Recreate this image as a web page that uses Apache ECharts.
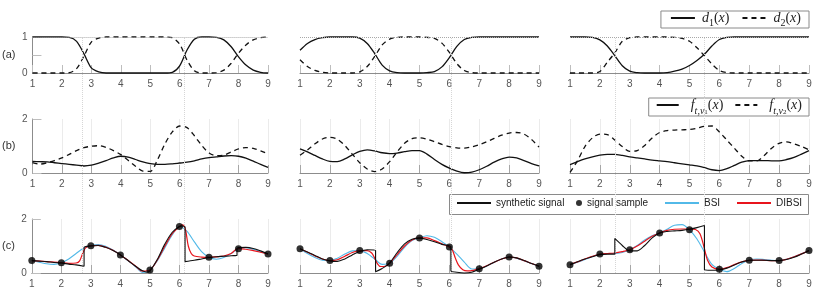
<!DOCTYPE html>
<html><head><meta charset="utf-8">
<script src="https://cdn.jsdelivr.net/npm/echarts@6/dist/echarts.min.js"></script>
<style>html,body{margin:0;padding:0;background:#fff}#c{width:822px;height:290px}</style>
</head><body><div id="c"></div>
<script>
// ---------- data ----------
const xGrid = [1,1.25,1.5,1.75,2,2.25,2.5,2.75,3,3.25,3.5,3.75,4,4.25,4.5,4.75,5,5.25,5.5,5.75,6,6.25,6.5,6.75,7,7.25,7.5,7.75,8,8.25,8.5,8.75,9];
const sampleX = [1,2,3,4,5,6,7,8,9];

// row (a): weights
const c1D1 = [1,1,1,1,1,0.99,0.88,0.53,0.14,0.03,0,0,0,0,0,0,0,0,0,0.02,0.2,0.64,0.94,1,1,0.99,0.92,0.73,0.45,0.22,0.08,0.02,0];
const c1D2 = [0,0,0,0,0,0.01,0.12,0.47,0.86,0.97,1,1,1,1,1,1,1,1,1,0.98,0.8,0.36,0.06,0,0,0.01,0.08,0.27,0.55,0.78,0.92,0.98,1];
const c2D1 = [0.63,0.82,0.93,0.98,1,1,1,1,0.97,0.82,0.54,0.22,0.06,0.01,0,0,0,0.01,0.04,0.17,0.43,0.74,0.93,0.99,1,1,1,1,1,1,1,1,1];
const c2D2 = [0.37,0.18,0.07,0.02,0,0,0,0,0.03,0.18,0.46,0.78,0.94,0.99,1,1,1,0.99,0.96,0.83,0.57,0.26,0.07,0.01,0,0,0,0,0,0,0,0,0];
const c3D1 = [1,1,1,0.99,0.92,0.75,0.48,0.2,0.05,0.01,0,0,0,0.01,0.05,0.11,0.21,0.35,0.52,0.75,0.93,0.99,1,1,1,1,1,1,1,1,1,1,1];
const c3D2 = [0,0,0,0,0.04,0.3,0.56,0.88,0.98,1,1,1,1,1,0.99,0.96,0.88,0.7,0.48,0.25,0.07,0.01,0,0,0,0,0,0,0,0,0,0,0];

// row (b): local functions
const c1F1 = [0.43,0.42,0.41,0.38,0.35,0.32,0.29,0.26,0.29,0.37,0.46,0.56,0.62,0.59,0.50,0.41,0.35,0.32,0.32,0.34,0.37,0.40,0.45,0.52,0.57,0.60,0.63,0.64,0.62,0.55,0.44,0.32,0.21];
const c1F2 = [0.38,0.33,0.38,0.46,0.56,0.69,0.83,0.94,0.99,1.01,0.95,0.83,0.68,0.47,0.25,0.07,0.06,0.50,1.08,1.52,1.74,1.68,1.38,1.02,0.74,0.64,0.66,0.78,0.89,0.94,0.91,0.82,0.71];
const c2F1 = [0.89,0.78,0.65,0.52,0.43,0.42,0.52,0.67,0.80,0.86,0.82,0.75,0.72,0.74,0.79,0.83,0.83,0.70,0.50,0.32,0.18,0.07,0.01,0.03,0.12,0.25,0.40,0.52,0.59,0.56,0.46,0.35,0.26];
const c2F2 = [0.66,0.85,1.08,1.26,1.32,1.25,1.02,0.70,0.38,0.15,0.05,0.15,0.42,0.78,1.10,1.27,1.30,1.25,1.16,1.06,0.98,0.93,0.92,0.97,1.05,1.16,1.28,1.40,1.48,1.50,1.44,1.24,0.96];
const c3F1 = [0.31,0.42,0.52,0.60,0.66,0.69,0.69,0.65,0.60,0.56,0.52,0.48,0.45,0.42,0.38,0.34,0.30,0.26,0.20,0.12,0.09,0.16,0.28,0.40,0.46,0.46,0.46,0.45,0.45,0.50,0.58,0.70,0.83];
const c3F2 = [0.02,0.45,0.98,1.30,1.44,1.42,1.22,0.98,0.80,0.83,1.02,1.30,1.50,1.57,1.59,1.60,1.61,1.66,1.73,1.74,1.52,1.22,0.92,0.62,0.45,0.45,0.65,0.92,1.10,1.15,1.08,0.98,0.86];

// row (c): signal samples
const c1Sample = [0.46,0.38,1.01,0.67,0.11,1.72,0.58,0.90,0.70];
const c2Sample = [0.90,0.46,0.83,0.36,1.30,0.96,0.16,0.59,0.25];
const c3Sample = [0.31,0.70,0.86,1.48,1.60,0.14,0.47,0.46,0.83];

// row (c): synthetic signal (repeated points mark the jumps)
const c1Signal = [[1,0.46],[1.25,0.44],[1.5,0.42],[1.75,0.39],[2,0.37],[2.25,0.33],[2.5,0.30],[2.77,0.25],[2.77,0.25],[2.77,0.94],[2.77,0.94],[3,1.0],[3.25,1.02],[3.5,0.95],[3.75,0.83],[4,0.67],[4.25,0.47],[4.5,0.26],[4.75,0.08],[4.9,0.03],[5,0.08],[5.25,0.5],[5.5,1.06],[5.75,1.50],[6,1.72],[6.1,1.74],[6.19,1.70],[6.19,1.70],[6.19,0.42],[6.19,0.42],[6.5,0.47],[6.75,0.52],[7,0.57],[7.25,0.60],[7.5,0.62],[7.75,0.64],[7.95,0.65],[7.95,0.65],[7.95,0.92],[7.95,0.92],[8.25,0.95],[8.5,0.91],[8.75,0.82],[9,0.71]];
const c2Signal = [[1,0.90],[1.25,0.78],[1.5,0.65],[1.75,0.52],[2,0.45],[2.25,0.43],[2.5,0.52],[2.75,0.67],[3,0.80],[3.25,0.86],[3.53,0.83],[3.53,0.83],[3.53,0.05],[3.53,0.05],[3.75,0.17],[4,0.37],[4.25,0.75],[4.5,1.08],[4.75,1.25],[5,1.29],[5.25,1.24],[5.5,1.16],[5.75,1.06],[6.05,0.96],[6.05,0.96],[6.05,0.08],[6.05,0.08],[6.25,0.03],[6.5,0.0],[6.75,0.03],[7,0.14],[7.25,0.26],[7.5,0.40],[7.75,0.52],[8,0.59],[8.25,0.56],[8.5,0.46],[8.75,0.35],[9,0.25]];
const c3Signal = [[1,0.31],[1.25,0.42],[1.5,0.52],[1.75,0.60],[2,0.68],[2.25,0.70],[2.5,0.70],[2.5,0.70],[2.5,1.28],[2.5,1.28],[2.75,1.02],[3,0.82],[3.25,0.82],[3.5,1.02],[3.75,1.30],[4,1.48],[4.25,1.54],[4.5,1.56],[4.75,1.58],[5,1.62],[5.25,1.68],[5.5,1.76],[5.5,1.76],[5.5,0.12],[5.5,0.12],[5.75,0.10],[6,0.12],[6.25,0.18],[6.5,0.30],[6.75,0.41],[7,0.47],[7.25,0.47],[7.5,0.47],[7.75,0.46],[8,0.46],[8.25,0.50],[8.5,0.58],[8.75,0.70],[9,0.83]];

// row (c): BSI reconstruction (on xGrid)
const c1Bsi = [0.46,0.40,0.34,0.32,0.38,0.52,0.72,0.92,1.01,1.05,0.99,0.85,0.67,0.46,0.25,0.02,0.11,0.45,0.92,1.40,1.72,1.55,1.16,0.79,0.58,0.51,0.57,0.72,0.90,0.94,0.88,0.79,0.70];
const c2Bsi = [0.90,0.72,0.57,0.47,0.46,0.55,0.70,0.82,0.83,0.72,0.52,0.32,0.36,0.62,0.95,1.20,1.30,1.38,1.32,1.16,0.96,0.70,0.40,0.15,0.16,0.26,0.40,0.52,0.59,0.55,0.45,0.35,0.25];
const c3Bsi = [0.31,0.40,0.50,0.61,0.70,0.72,0.72,0.76,0.86,1.02,1.22,1.38,1.48,1.62,1.77,1.79,1.60,1.26,0.78,0.32,0.14,0.05,0.17,0.35,0.47,0.52,0.50,0.47,0.46,0.51,0.60,0.71,0.83];

// row (c): DIBSI reconstruction
const c1Dibsi = [[1,0.46],[1.25,0.44],[1.5,0.42],[1.75,0.40],[2,0.38],[2.25,0.36],[2.5,0.37],[2.62,0.45],[2.72,0.72],[2.82,0.93],[3,1.01],[3.25,1.02],[3.5,0.96],[3.75,0.84],[4,0.67],[4.25,0.47],[4.5,0.27],[4.75,0.07],[5,0.11],[5.25,0.48],[5.5,0.98],[5.75,1.45],[6,1.72],[6.1,1.78],[6.2,1.62],[6.3,1.0],[6.4,0.72],[6.5,0.63],[6.75,0.59],[7,0.58],[7.25,0.60],[7.5,0.63],[7.75,0.72],[7.9,0.86],[8,0.90],[8.25,0.88],[8.5,0.83],[8.75,0.77],[9,0.70]];
const c2Dibsi = [[1,0.90],[1.25,0.77],[1.5,0.63],[1.75,0.52],[2,0.46],[2.25,0.49],[2.5,0.62],[2.75,0.76],[3,0.83],[3.25,0.83],[3.4,0.74],[3.5,0.55],[3.6,0.33],[3.7,0.24],[3.85,0.25],[4,0.36],[4.25,0.68],[4.5,1.00],[4.75,1.22],[5,1.30],[5.25,1.30],[5.5,1.20],[5.75,1.08],[6,0.96],[6.1,0.85],[6.2,0.55],[6.3,0.30],[6.45,0.12],[6.6,0.08],[6.8,0.10],[7,0.16],[7.25,0.27],[7.5,0.40],[7.75,0.52],[8,0.59],[8.25,0.56],[8.5,0.46],[8.75,0.35],[9,0.25]];
const c3Dibsi = [[1,0.31],[1.25,0.41],[1.5,0.52],[1.75,0.62],[2,0.70],[2.25,0.72],[2.5,0.74],[2.75,0.79],[3,0.86],[3.25,1.00],[3.5,1.18],[3.75,1.36],[4,1.48],[4.25,1.58],[4.5,1.62],[4.75,1.63],[5,1.63],[5.2,1.61],[5.35,1.45],[5.5,0.90],[5.6,0.48],[5.75,0.22],[6,0.14],[6.25,0.20],[6.5,0.31],[6.75,0.41],[7,0.47],[7.25,0.48],[7.5,0.47],[7.75,0.46],[8,0.46],[8.25,0.51],[8.5,0.60],[8.75,0.71],[9,0.83]];

// discontinuity locations (dotted guides)
const c1Jumps = [2.77, 6.19];
const c2Jumps = [3.53, 6.05];
const c3Jumps = [2.5, 5.5];

const rowNames = ['(a)', '(b)', '(c)'];

// ---------- build ----------
const zip = (xs, ys) => xs.map((x, i) => [x, ys[i]]);
const D1 = [c1D1, c2D1, c3D1], D2 = [c1D2, c2D2, c3D2];
const F1 = [c1F1, c2F1, c3F1], F2 = [c1F2, c2F2, c3F2];
const S = [c1Sample, c2Sample, c3Sample], SIG = [c1Signal, c2Signal, c3Signal];
const BSI = [c1Bsi, c2Bsi, c3Bsi], DIB = [c1Dibsi, c2Dibsi, c3Dibsi];
const JUMPS = [c1Jumps, c2Jumps, c3Jumps];

const colLeft = [30, 300, 570], colWidth = [238, 239, 239];
const rowTop = [37, 119, 219], rowHeight = [36, 54, 54];
const rowMax = [1, 2, 2], rowInterval = [0.5, 2, 2];
const FONT = 'Liberation Sans';
const grids = [], xAxes = [], yAxes = [], series = [];

for (let r = 0; r < 3; r++) {
  for (let c = 0; c < 3; c++) {
    const idx = r * 3 + c;
    grids.push({ left: colLeft[c], top: rowTop[r], width: colWidth[c], height: rowHeight[r] });
    xAxes.push({
      gridIndex: idx, type: 'value', min: 1, max: 9, interval: 1,
      axisLine: { lineStyle: { color: '#8c8c8c', width: 1 } },
      axisTick: { inside: true, length: 8, lineStyle: { color: r === 0 ? '#bdbdbd' : '#a6a6a6' } },
      axisLabel: { color: '#555', fontSize: 10, fontFamily: FONT, margin: 6 },
      splitLine: { show: r > 0, lineStyle: { color: '#ebebeb', width: 1 } }
    });
    yAxes.push({
      gridIndex: idx, type: 'value', min: 0, max: rowMax[r], interval: rowInterval[r],
      show: c === 0,
      axisLine: { show: true, lineStyle: { color: '#8c8c8c' } },
      axisTick: { show: true, inside: true, length: 9, lineStyle: { color: '#bdbdbd' } },
      axisLabel: { color: '#555', fontSize: 10, fontFamily: FONT, margin: 5,
        formatter: v => (v === 0.5 ? '' : String(v)) },
      splitLine: { show: false },
      name: c === 0 ? rowNames[r] : '', nameLocation: 'middle', nameRotate: 0, nameGap: 17,
      nameTextStyle: { color: '#333', fontSize: 11, fontFamily: FONT }
    });
    const base = { xAxisIndex: idx, yAxisIndex: idx, symbol: 'none', clip: false, animation: false, silent: true };
    if (r === 0) {
      series.push(Object.assign({}, base, { type: 'line', data: [], z: 1,
        markLine: { silent: true, symbol: 'none', label: { show: false },
          lineStyle: { type: 'dotted', color: '#a8a8a8', width: 1 }, data: [{ yAxis: 1 }] } }));
      series.push(Object.assign({}, base, { type: 'line', name: 'd1', smooth: 0.3, z: 3,
        data: zip(xGrid, D1[c]), lineStyle: { color: '#111', width: 1.3 }, itemStyle: { color: '#111' } }));
      series.push(Object.assign({}, base, { type: 'line', name: 'd2', smooth: 0.3, z: 3,
        data: zip(xGrid, D2[c]), lineStyle: { color: '#111', width: 1.3, type: [5, 4] }, itemStyle: { color: '#111' } }));
    } else if (r === 1) {
      series.push(Object.assign({}, base, { type: 'line', name: 'f1', smooth: 0.3, z: 3,
        data: zip(xGrid, F1[c]), lineStyle: { color: '#111', width: 1.3 }, itemStyle: { color: '#111' } }));
      series.push(Object.assign({}, base, { type: 'line', name: 'f2', smooth: 0.3, z: 3,
        data: zip(xGrid, F2[c]), lineStyle: { color: '#111', width: 1.3, type: [5, 4] }, itemStyle: { color: '#111' } }));
    } else {
      series.push(Object.assign({}, base, { type: 'line', name: 'BSI', smooth: 0.3, z: 3,
        data: zip(xGrid, BSI[c]), lineStyle: { color: '#52b9e8', width: 1.1 }, itemStyle: { color: '#52b9e8' } }));
      series.push(Object.assign({}, base, { type: 'line', name: 'DIBSI', smooth: 0.3, z: 4,
        data: DIB[c], lineStyle: { color: '#e8141c', width: 1.2 }, itemStyle: { color: '#e8141c' } }));
      series.push(Object.assign({}, base, { type: 'line', name: 'synthetic signal', smooth: 0.3, z: 5,
        data: SIG[c], lineStyle: { color: '#111', width: 1.1 }, itemStyle: { color: '#111' } }));
      series.push(Object.assign({}, base, { type: 'scatter', name: 'signal sample', symbol: 'circle', symbolSize: 7, z: 6,
        data: zip(sampleX, S[c]), itemStyle: { color: '#000' } }));
    }
  }
}
// overlay grids for the dotted discontinuity guides spanning all three rows
for (let c = 0; c < 3; c++) {
  const idx = 9 + c;
  grids.push({ left: colLeft[c], top: 37, width: colWidth[c], height: 236 });
  xAxes.push({ gridIndex: idx, type: 'value', min: 1, max: 9, show: false });
  yAxes.push({ gridIndex: idx, type: 'value', min: 0, max: 1, show: false });
  series.push({ type: 'line', xAxisIndex: idx, yAxisIndex: idx, data: [], z: 0, silent: true, animation: false,
    markLine: { silent: true, symbol: 'none', label: { show: false }, animation: false,
      lineStyle: { type: 'dotted', color: '#d6d6d6', width: 1 },
      data: JUMPS[c].map(x => ({ xAxis: x })) } });
}

const serif = 'Liberation Serif';
const mathRich = {
  i: { fontFamily: serif, fontStyle: 'italic', fontSize: 14, color: '#222' },
  n: { fontFamily: serif, fontSize: 14, color: '#222' },
  s: { fontFamily: serif, fontSize: 10, color: '#222', verticalAlign: 'bottom', lineHeight: 20 },
  si: { fontFamily: serif, fontStyle: 'italic', fontSize: 10, color: '#222', verticalAlign: 'bottom', lineHeight: 20 },
  ss: { fontFamily: serif, fontSize: 7, color: '#222', verticalAlign: 'bottom', lineHeight: 22 }
};
const legendFmt = {
  d1: '{i|d}{s|1}{n|(}{i|x}{n|)}',
  d2: '{i|d}{s|2}{n|(}{i|x}{n|)}',
  f1: '{i|f}{si|t,v}{ss|1}{n|(}{i|x}{n|)}',
  f2: '{i|f}{si|t,v}{ss|2}{n|(}{i|x}{n|)}'
};
const hideDot = { opacity: 0 };
const sansText = { fontFamily: FONT, fontSize: 10, color: '#222' };
const legends = [
  { data: ['d1', 'd2'], right: 13, top: 11, orient: 'horizontal', padding: [0, 8, 0, 9],
    borderColor: '#8a8a8a', borderWidth: 1, itemWidth: 24, itemHeight: 10, itemGap: 12,
    itemStyle: hideDot, formatter: n => legendFmt[n], textStyle: { rich: mathRich, padding: [0, 0, 0, 2] }, selectedMode: false },
  { data: ['f1', 'f2'], right: 13, top: 98, orient: 'horizontal', padding: [0, 7, 0, 7],
    borderColor: '#8a8a8a', borderWidth: 1, itemWidth: 22, itemHeight: 10, itemGap: 11,
    itemStyle: hideDot, formatter: n => legendFmt[n], textStyle: { rich: mathRich, padding: [0, 0, 0, 7] }, selectedMode: false },
  { data: ['synthetic signal'], left: 456, top: 198, padding: 0, itemWidth: 34, itemHeight: 8, itemStyle: hideDot, textStyle: sansText, selectedMode: false },
  { data: [{ name: 'signal sample', icon: 'circle' }], left: 576, top: 198, padding: 0, itemWidth: 6, itemHeight: 6, textStyle: sansText, selectedMode: false },
  { data: ['BSI'], left: 664, top: 198, padding: 0, itemWidth: 34, itemHeight: 8, itemStyle: hideDot, textStyle: sansText, selectedMode: false },
  { data: ['DIBSI'], left: 736, top: 198, padding: 0, itemWidth: 34, itemHeight: 8, itemStyle: hideDot, textStyle: sansText, selectedMode: false }
];

const chart = echarts.init(document.getElementById('c'), null, { renderer: 'canvas' });
chart.setOption({
  animation: false,
  backgroundColor: '#fff',
  grid: grids, xAxis: xAxes, yAxis: yAxes, series: series,
  legend: legends,
  graphic: [{ type: 'rect', z: 1, silent: true,
    shape: { x: 449.5, y: 194.5, width: 359, height: 20 },
    style: { fill: '#fff', stroke: '#8a8a8a', lineWidth: 1 } }]
});
</script></body></html>
